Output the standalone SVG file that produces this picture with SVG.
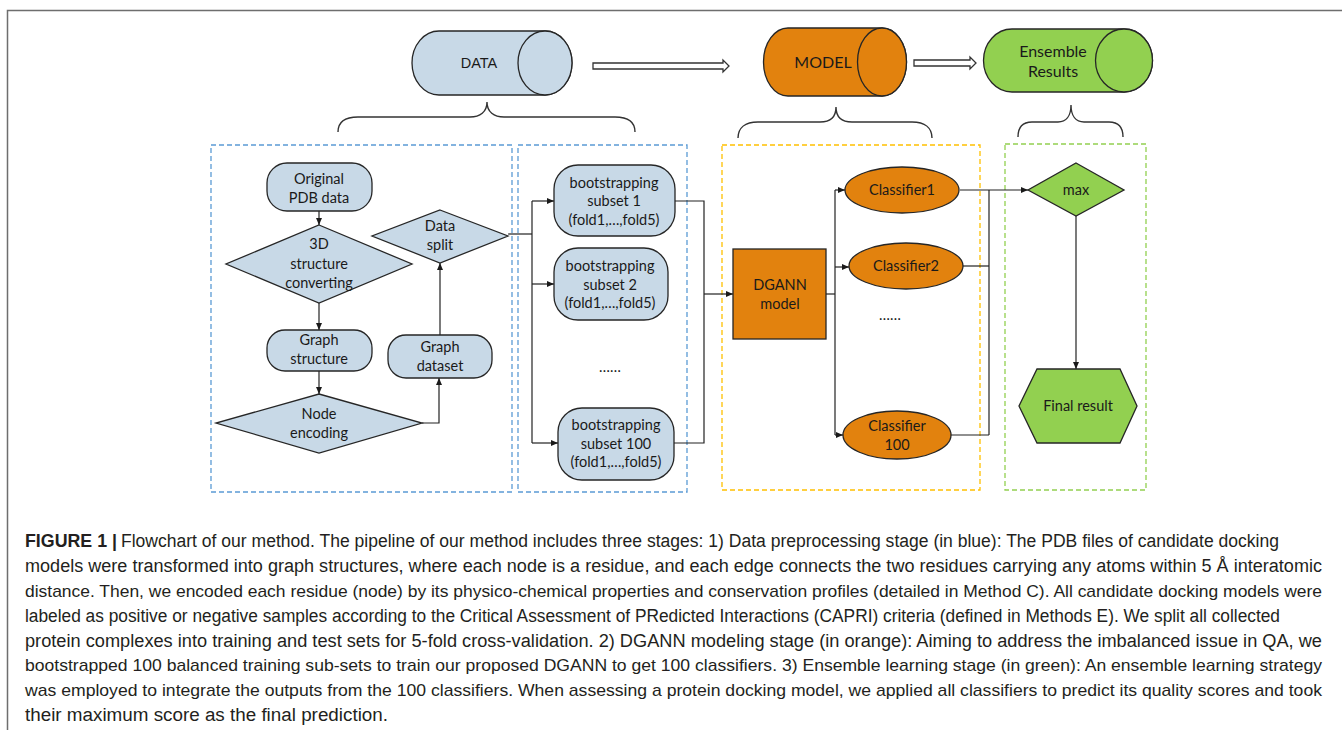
<svg xmlns="http://www.w3.org/2000/svg" width="1342" height="730" viewBox="0 0 1342 730">
<defs>
<marker id="ah" markerWidth="8" markerHeight="8" refX="7" refY="4" orient="auto" markerUnits="userSpaceOnUse">
<path d="M0,1 L7,4 L0,7 Z" fill="#1a1a1a"/>
</marker>
<style>
.frame{stroke:#6e6e6e;stroke-width:1.5;fill:none}
.sh{stroke:#262626;stroke-width:1.3}
.blue{fill:#c8d9e7}
.org{fill:#e2820e}
.grn{fill:#92d050}
.dash{fill:none;stroke-width:1.3;stroke-dasharray:5 3}
.brace{fill:none;stroke:#333;stroke-width:1.4}
.hol{fill:#fff;stroke:#333;stroke-width:1.3}
.con{fill:none;stroke:#222;stroke-width:1.2}
.lbl{font-family:Lato,"Open Sans",sans-serif;font-size:14.5px;fill:#1a1a1a;text-anchor:middle}
.cyl{font-family:Lato,"Open Sans",sans-serif;font-size:16px;fill:#1a1a1a;text-anchor:middle}
.cap{font-family:"Liberation Sans",Arial,sans-serif;font-size:18px;fill:#231f20}
.cap17{font-size:17px}
</style>
</defs>
<rect width="1342" height="730" fill="#fff"/>
<path class="frame" d="M7.5,730 L7.5,10.5 L1342,10.5"/>

<g id="data-cyl">
<path class="sh blue" d="M439,31 L545,31 A27,32 0 0 1 545,95 L439,95 A27,32 0 0 1 439,31 Z"/>
<ellipse class="sh blue" cx="545" cy="63" rx="27" ry="32"/>
<text x="479" y="68" style="font-family:'Liberation Sans',Arial,sans-serif;font-size:14.5px;fill:#1a1a1a;text-anchor:middle">DATA</text>
</g>
<g id="model-cyl">
<path class="sh org" d="M788,28 L882,28 A24.5,34 0 0 1 882,96 L788,96 A24.5,34 0 0 1 788,28 Z"/>
<ellipse class="sh org" cx="882" cy="62" rx="24.5" ry="34"/>
<text class="cyl" x="823" y="68">MODEL</text>
</g>
<g id="ensemble-cyl">
<path class="sh grn" d="M1012,29 L1124,29 A28.5,31.5 0 0 1 1124,92 L1012,92 A28.5,31.5 0 0 1 1012,29 Z"/>
<ellipse class="sh grn" cx="1124" cy="60.5" rx="28.5" ry="31.5"/>
<text class="cyl" x="1053" y="57">Ensemble</text>
<text class="cyl" x="1053" y="77">Results</text>
</g>

<g id="big-arrows">
<polygon class="hol" points="593,63 723,63 723,60 729,66 723,72 723,69 593,69"/>
<polygon class="hol" points="914,60 970,60 970,57 976,63 970,69 970,66 914,66"/>
</g>

<g id="braces">
<path class="brace" d="M338,132 C338,122 345,117 358,117 L470,117 C480,117 487,112 487,102 C487,112 494,117 504,117 L615,117 C628,117 635,122 635,132"/>
<path class="brace" d="M738,138 C738,128 745,122 758,122 L820,122 C830,122 836,117 836,107 C836,117 842,122 852,122 L912,122 C925,122 932,128 932,138"/>
<path class="brace" d="M1018,137 C1018,128 1022,122 1032,122 L1058,122 C1066,122 1071,116 1071,105 C1071,116 1076,122 1084,122 L1109,122 C1119,122 1123,128 1123,137"/>
</g>

<g id="panels">
<rect class="dash" x="211" y="145" width="301" height="347" stroke="#5b9bd5"/>
<rect class="dash" x="518" y="145" width="169" height="347" stroke="#5b9bd5"/>
<rect class="dash" x="722" y="145" width="258" height="345" stroke="#ffc000"/>
<rect class="dash" x="1005" y="144" width="141" height="346" stroke="#92d050"/>
</g>

<g id="connectors">
<line class="con" x1="319" y1="211" x2="319" y2="225" marker-end="url(#ah)"/>
<line class="con" x1="319" y1="303" x2="319" y2="330" marker-end="url(#ah)"/>
<line class="con" x1="319" y1="371" x2="319" y2="394" marker-end="url(#ah)"/>
<polyline class="con" points="422,423 439,423 439,378" marker-end="url(#ah)"/>
<line class="con" x1="440" y1="335" x2="440" y2="263" marker-end="url(#ah)"/>
<polyline class="con" points="508,234 532,234"/>
<line class="con" x1="532" y1="201" x2="532" y2="443"/>
<line class="con" x1="532" y1="201" x2="554" y2="201" marker-end="url(#ah)"/>
<line class="con" x1="532" y1="284" x2="554" y2="284" marker-end="url(#ah)"/>
<line class="con" x1="532" y1="443" x2="558" y2="443" marker-end="url(#ah)"/>
<polyline class="con" points="675,201 704,201 704,443 674,443"/>
<line class="con" x1="704" y1="294" x2="733" y2="294" marker-end="url(#ah)"/>
<line class="con" x1="826" y1="294" x2="835" y2="294"/>
<line class="con" x1="835" y1="190" x2="835" y2="435"/>
<line class="con" x1="835" y1="190" x2="845" y2="190" marker-end="url(#ah)"/>
<line class="con" x1="835" y1="267" x2="849" y2="267" marker-end="url(#ah)"/>
<line class="con" x1="835" y1="435" x2="843" y2="435" marker-end="url(#ah)"/>
<line class="con" x1="960" y1="190" x2="1028" y2="190" marker-end="url(#ah)"/>
<line class="con" x1="963" y1="266" x2="989" y2="266"/>
<line class="con" x1="951" y1="435" x2="989" y2="435"/>
<line class="con" x1="989" y1="190" x2="989" y2="435"/>
<line class="con" x1="1076" y1="216" x2="1076" y2="369" marker-end="url(#ah)"/>
</g>

<g id="original-pdb">
<rect class="sh blue" x="267" y="163" width="105" height="48" rx="20"/>
<text class="lbl" x="319" y="184">Original</text>
<text class="lbl" x="319" y="203">PDB data</text>
</g>
<g id="structure-converting">
<polygon class="sh blue" points="319,225 412,264 319,303 226,264"/>
<text class="lbl" x="319" y="249">3D</text>
<text class="lbl" x="319" y="269">structure</text>
<text class="lbl" x="319" y="288">converting</text>
</g>
<g id="graph-structure">
<rect class="sh blue" x="267" y="330" width="105" height="41" rx="18"/>
<text class="lbl" x="319" y="345">Graph</text>
<text class="lbl" x="319" y="364">structure</text>
</g>
<g id="node-encoding">
<polygon class="sh blue" points="319,394 422,423 319,453 216,423"/>
<text class="lbl" x="319" y="419">Node</text>
<text class="lbl" x="319" y="438">encoding</text>
</g>
<g id="graph-dataset">
<rect class="sh blue" x="388" y="335" width="104" height="43" rx="18"/>
<text class="lbl" x="440" y="352">Graph</text>
<text class="lbl" x="440" y="371">dataset</text>
</g>
<g id="data-split">
<polygon class="sh blue" points="440,210 508,236 440,263 372,236"/>
<text class="lbl" x="440" y="231">Data</text>
<text class="lbl" x="440" y="250">split</text>
</g>

<g id="subset-1">
<rect class="sh blue" x="554" y="165" width="121" height="71" rx="24"/>
<text class="lbl" x="614" y="188">bootstrapping</text>
<text class="lbl" x="614" y="206">subset 1</text>
<text class="lbl" x="614" y="225">(fold1,…,fold5)</text>
</g>
<g id="subset-2">
<rect class="sh blue" x="554" y="248" width="114" height="72" rx="24"/>
<text class="lbl" x="610" y="271">bootstrapping</text>
<text class="lbl" x="610" y="290">subset 2</text>
<text class="lbl" x="610" y="308">(fold1,…,fold5)</text>
</g>
<text class="lbl" x="610" y="372">……</text>
<g id="subset-100">
<rect class="sh blue" x="558" y="408" width="116" height="72" rx="24"/>
<text class="lbl" x="616" y="430">bootstrapping</text>
<text class="lbl" x="616" y="449">subset 100</text>
<text class="lbl" x="616" y="467">(fold1,…,fold5)</text>
</g>

<g id="dgann">
<rect class="sh org" x="733" y="249" width="93" height="90"/>
<text class="lbl" x="780" y="290">DGANN</text>
<text class="lbl" x="780" y="309">model</text>
</g>
<g id="classifier-1">
<ellipse class="sh org" cx="902" cy="190" rx="57" ry="23"/>
<text class="lbl" x="902" y="195">Classifier1</text>
</g>
<g id="classifier-2">
<ellipse class="sh org" cx="906" cy="266" rx="57" ry="23"/>
<text class="lbl" x="906" y="271">Classifier2</text>
</g>
<text class="lbl" x="890" y="320">……</text>
<g id="classifier-100">
<ellipse class="sh org" cx="897" cy="435" rx="54" ry="24"/>
<text class="lbl" x="897" y="431">Classifier</text>
<text class="lbl" x="897" y="450">100</text>
</g>

<g id="max">
<polygon class="sh grn" points="1076,163 1124,190 1076,216 1028,190"/>
<text class="lbl" x="1076" y="195">max</text>
</g>
<g id="final-result">
<polygon class="sh grn" points="1037,369 1120,369 1137,406 1120,443 1037,443 1019,406"/>
<text class="lbl" x="1078" y="411">Final result</text>
</g>

<g id="caption">
<text class="cap" x="25" y="547" font-weight="bold" textLength="92" lengthAdjust="spacingAndGlyphs">FIGURE 1 |</text>
<text class="cap" x="121" y="547" textLength="1158" lengthAdjust="spacingAndGlyphs">Flowchart of our method. The pipeline of our method includes three stages: 1) Data preprocessing stage (in blue): The PDB files of candidate docking</text>
<text class="cap" x="25" y="572" textLength="1297" lengthAdjust="spacingAndGlyphs">models were transformed into graph structures, where each node is a residue, and each edge connects the two residues carrying any atoms within 5 Å interatomic</text>
<text class="cap cap17" x="25" y="597" textLength="1297" lengthAdjust="spacingAndGlyphs">distance. Then, we encoded each residue (node) by its physico-chemical properties and conservation profiles (detailed in Method C). All candidate docking models were</text>
<text class="cap" x="25" y="622" textLength="1255" lengthAdjust="spacingAndGlyphs">labeled as positive or negative samples according to the Critical Assessment of PRedicted Interactions (CAPRI) criteria (defined in Methods E). We split all collected</text>
<text class="cap" x="25" y="647" textLength="1297" lengthAdjust="spacingAndGlyphs">protein complexes into training and test sets for 5-fold cross-validation. 2) DGANN modeling stage (in orange): Aiming to address the imbalanced issue in QA, we</text>
<text class="cap cap17" x="25" y="671" textLength="1297" lengthAdjust="spacingAndGlyphs">bootstrapped 100 balanced training sub-sets to train our proposed DGANN to get 100 classifiers. 3) Ensemble learning stage (in green): An ensemble learning strategy</text>
<text class="cap cap17" x="25" y="696" textLength="1297" lengthAdjust="spacingAndGlyphs">was employed to integrate the outputs from the 100 classifiers. When assessing a protein docking model, we applied all classifiers to predict its quality scores and took</text>
<text class="cap" x="25" y="721" textLength="363" lengthAdjust="spacingAndGlyphs">their maximum score as the final prediction.</text>
</g>
</svg>
